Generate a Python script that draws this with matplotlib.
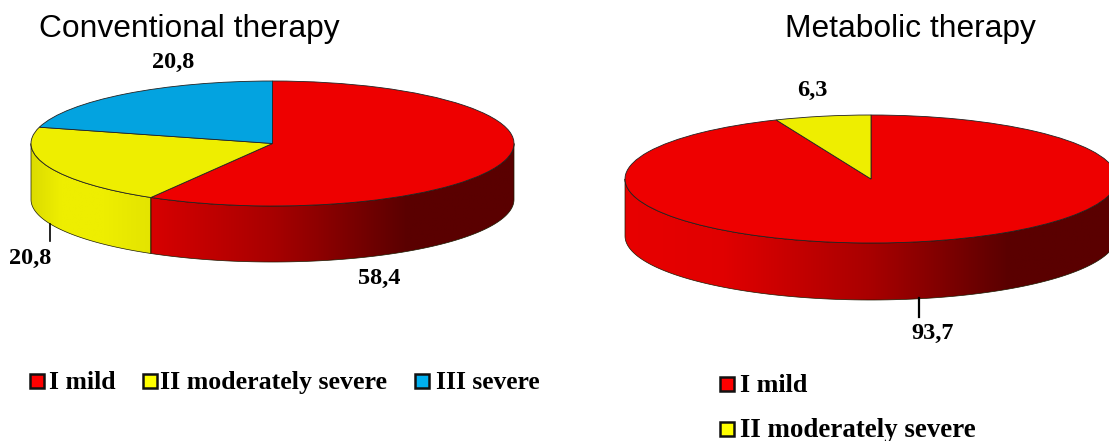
import numpy as np
import matplotlib
matplotlib.use('Agg')
import matplotlib.pyplot as plt
from matplotlib.colors import LinearSegmentedColormap
from matplotlib.patches import PathPatch, Rectangle
from matplotlib.path import Path

W, H = 1109, 441

conv_values = [58.4, 20.8, 20.8]
conv_colors = ['#ee0000', '#eeee00', '#03a3e0']
meta_values = [93.7, 6.3]
meta_colors = ['#ee0000', '#eeee00']
categories = ['I mild', 'II moderately severe', 'III severe']
key_colors = ['#ff0000', '#ffff00', '#00b0f0']

# side wall shading, left to right across the whole pie
side_cmaps = {
    '#ee0000': LinearSegmentedColormap.from_list('red_side', [
        (0, '#e80000'), (0.2, '#e00000'), (0.5, '#a80000'), (0.78, '#5a0000'), (1, '#5a0000')]),
    '#eeee00': LinearSegmentedColormap.from_list('yellow_side', [
        (0, '#dcdc00'), (0.06, '#eeee00'), (0.15, '#eeee00'), (0.3, '#dede00'), (1, '#808000')]),
}

serif = 'Liberation Serif'
sans = 'Liberation Sans'


def pie_3d(fig, values, colors, cx, cy, rx, ry, depth):
    # the axes runs -1..1 over the ellipse, plus the wall height underneath
    d = depth / ry
    ax = fig.add_axes([(cx - rx) / W, 1 - (cy + ry + depth) / H, 2 * rx / W, (2 * ry + depth) / H])
    fracs = np.cumsum([0] + list(values)) / sum(values)
    for i, col in enumerate(colors):
        a0 = max(fracs[i] * 360, 90)
        a1 = min(fracs[i + 1] * 360, 270)
        if a1 <= a0:
            continue
        t = np.radians(np.linspace(a0, a1, 120))
        xs = np.r_[np.sin(t), np.sin(t[::-1])]
        ys = np.r_[np.cos(t), np.cos(t[::-1]) - d]
        verts = np.c_[xs, ys]
        wall = Path(np.vstack([verts, verts[0]]), closed=True)
        im = ax.imshow(np.linspace(0, 1, 256)[None, :], cmap=side_cmaps[col], vmin=0, vmax=1,
                       extent=(-1, 1, -1 - d, 1), aspect='auto', zorder=1)
        im.set_clip_path(PathPatch(wall, transform=ax.transData))
        ax.add_patch(PathPatch(wall, fc='none', ec='#1a1a00', lw=0.5, zorder=2))
    ax.pie(values, colors=colors, startangle=90, counterclock=False, radius=1,
           wedgeprops={'edgecolor': '#222222', 'linewidth': 0.6, 'zorder': 3})
    ax.set_aspect('auto')
    ax.set_xlim(-1, 1)
    ax.set_ylim(-1 - d, 1)
    ax.patch.set_visible(False)
    for p in ax.patches:
        p.set_clip_on(False)
    return ax


def fmt(v):
    return f'{v:.1f}'.replace('.', ',')


fig = plt.figure(figsize=(W / 100, H / 100), dpi=100)

pie_3d(fig, conv_values, conv_colors, 272.5, 143.5, 241.5, 62.5, 56)
pie_3d(fig, meta_values, meta_colors, 871, 179, 246, 64, 57)

# overlay in pixel units for titles, value labels and keys
top = fig.add_axes([0, 0, 1, 1], zorder=5)
top.set_xlim(0, W)
top.set_ylim(H, 0)
top.axis('off')

top.text(39, 37, 'Conventional therapy', family=sans, fontsize=22.9, va='baseline')
top.text(785, 37, 'Metabolic therapy', family=sans, fontsize=22.9, va='baseline')

conv_label_pos = [(379, 278), (30, 258), (173, 62)]
for v, (x, y) in zip(conv_values, conv_label_pos):
    top.text(x, y, fmt(v), family=serif, weight='bold', fontsize=17.5, ha='center', va='center')
meta_label_pos = [(933, 333), (812, 90)]
for v, (x, y) in zip(meta_values, meta_label_pos):
    top.text(x, y, fmt(v), family=serif, weight='bold', fontsize=17.5, ha='center', va='center')

# leader lines
top.plot([50, 50], [224, 241], color='black', lw=1.2)
top.plot([919, 919], [298, 317], color='black', lw=1.6)


def key(x, y, col, label, tx, size):
    top.add_patch(Rectangle((x, y), 14, 14, fc=col, ec='#111111', lw=1.8))
    top.text(tx, y + 15, label, family=serif, weight='bold', fontsize=size, va='baseline')


key(30, 374, key_colors[0], categories[0], 49, 18.5)
key(142.5, 374, key_colors[1], categories[1], 160, 18.6)
key(415, 374, key_colors[2], categories[2], 436, 18.4)
key(719.5, 377, key_colors[0], categories[0], 740, 18.8)
key(719.5, 422, key_colors[1], categories[1], 740, 19.4)

fig.savefig('out.png', dpi=100)
